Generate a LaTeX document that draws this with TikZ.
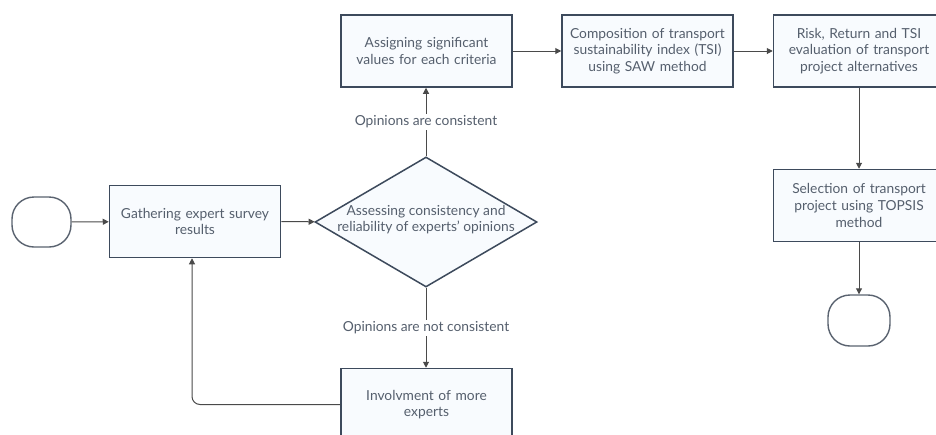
\documentclass[tikz,border=0pt]{standalone}
\usepackage{fontspec}
\setmainfont{Lato}
\usetikzlibrary{arrows.meta,shapes.geometric,calc}
\definecolor{boxc}{HTML}{3D4A5C}
\definecolor{fillc}{HTML}{F8FBFE}
\definecolor{txtc}{HTML}{555F6D}
\definecolor{linec}{HTML}{4A4A4A}
\definecolor{termc}{HTML}{5A6370}
\begin{document}
\begin{tikzpicture}[x=1pt,y=-1pt,
  box/.style={draw=boxc, fill=fillc, line width=1.5pt, minimum width=171pt, minimum height=72pt,
    text width=165pt, align=center, inner sep=0pt, text=txtc, font=\fontsize{13.8}{16.8}\selectfont},
  term/.style={draw=termc, fill=white, line width=1.4pt, rounded corners=22pt, inner sep=0pt},
  dec/.style={draw=boxc, fill=fillc, line width=1.5pt, shape=diamond, aspect=1.7, inner sep=0pt,
    minimum width=222pt, minimum height=130pt, text=txtc},
  arr/.style={draw=linec, line width=1pt, -{Triangle[length=6pt,width=6pt]}},
  lbl/.style={fill=white, text=txtc, inner sep=2pt, font=\fontsize{13.8}{15}\selectfont}
]
\useasboundingbox (0,0) rectangle (936,434);
\fill[white] (0,0) rectangle (936,434);

\node[term, minimum width=59pt, minimum height=50pt] (s) at (41.5,222) {};
\node[box] (g) at (195,221.5) {Gathering expert survey\\results};
\node[dec] (d) at (426,222) {\makebox[0pt]{\smash{\parbox[c]{220pt}{\centering\fontsize{13.8}{16.8}\selectfont Assessing consistency and\\reliability of experts' opinions}}}};
\node[box] (a) at (426.5,51) {Assigning significant\\values for each criteria};
\node[box] (c) at (647.5,51) {Composition of transport\\sustainability index (TSI)\\using SAW method};
\node[box] (r) at (859,51) {Risk, Return and TSI\\evaluation of transport\\project alternatives};
\node[box] (sel) at (859,205.5) {Selection of transport\\project using TOPSIS\\method};
\node[term, minimum width=62pt, minimum height=51pt] (e) at (859,320.5) {};
\node[box] (inv) at (426.5,404.5) {Involvment of more\\experts};

\draw[arr] (s) -- (g);
\draw[arr] (g) -- (d);
\draw[arr] (d.north) -- node[lbl] {Opinions are consistent} (d.north |- a.south);
\draw[arr] (a) -- (c);
\draw[arr] (c) -- (r);
\draw[arr] (r) -- (sel);
\draw[arr] (sel) -- (e);
\draw[arr] (d.south) -- node[lbl] {Opinions are not consistent} (d.south |- inv.north);
\draw[arr, rounded corners=8pt] (inv.west) -| ([xshift=-3pt]g.south);
\end{tikzpicture}
\end{document}
